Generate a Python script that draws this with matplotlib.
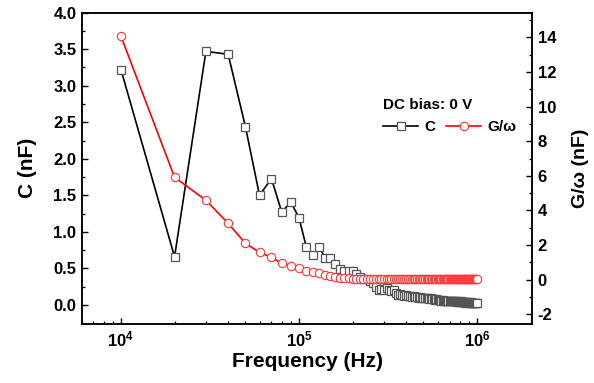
import numpy as np
import matplotlib
matplotlib.use('Agg')
import matplotlib.pyplot as plt
from matplotlib.ticker import FixedLocator, MultipleLocator, NullFormatter

plt.rcParams['font.family'] = ['Liberation Sans', 'DejaVu Sans']
plt.rcParams['font.weight'] = 'bold'
plt.rcParams['axes.labelweight'] = 'bold'
plt.rcParams['mathtext.fontset'] = 'custom'
plt.rcParams['mathtext.rm'] = 'Liberation Sans:bold'
plt.rcParams['mathtext.bf'] = 'Liberation Sans:bold'

# frequency points: 10 kHz to 1 MHz in 10 kHz steps
freq_khz = list(range(10, 1001, 10))

# capacitance (nF)
c_vals = [3.22, 0.66, 3.47, 3.43, 2.44, 1.50, 1.73, 1.27, 1.41, 1.19,
          0.79, 0.69, 0.79, 0.65, 0.65, 0.56, 0.49, 0.47, 0.46, 0.46,
          0.42, 0.38, 0.36, 0.35, 0.33, 0.30, 0.24, 0.21, 0.22, 0.20,
          0.23, 0.21, 0.19, 0.20, 0.16, 0.14, 0.15, 0.14, 0.13, 0.14,
          0.12, 0.13, 0.11, 0.12, 0.11, 0.11, 0.10, 0.11, 0.10, 0.09,
          0.10, 0.09, 0.09, 0.08, 0.09, 0.08, 0.08, 0.07, 0.08, 0.07,
          0.07, 0.07, 0.06, 0.07, 0.06, 0.06, 0.06, 0.05, 0.06, 0.05,
          0.05, 0.06, 0.05, 0.05, 0.05, 0.04, 0.05, 0.05, 0.04, 0.04,
          0.05, 0.04, 0.04, 0.04, 0.04, 0.03, 0.04, 0.04, 0.03, 0.04,
          0.03, 0.03, 0.04, 0.03, 0.03, 0.03, 0.03, 0.03, 0.03, 0.03]

# G/omega (nF)
g_vals = [14.07, 5.92, 4.59, 3.26, 2.10, 1.58, 1.29, 0.95, 0.81, 0.66,
          0.52, 0.46, 0.36, 0.28, 0.23, 0.15, 0.12, 0.09, 0.07, 0.05,
          0.04, 0.03, 0.03, 0.02, 0.02, 0.02, 0.02, 0.02, 0.02, 0.02,
          0.02, 0.03, 0.03, 0.03, 0.03, 0.03, 0.03, 0.03, 0.03, 0.04,
          0.04, 0.04, 0.04, 0.04, 0.04, 0.04, 0.04, 0.04, 0.04, 0.04,
          0.04, 0.04, 0.05, 0.05, 0.05, 0.05, 0.05, 0.05, 0.05, 0.05,
          0.05, 0.05, 0.05, 0.05, 0.05, 0.05, 0.05, 0.05, 0.05, 0.05,
          0.05, 0.05, 0.05, 0.05, 0.05, 0.05, 0.05, 0.05, 0.05, 0.05,
          0.05, 0.05, 0.05, 0.05, 0.05, 0.05, 0.05, 0.05, 0.05, 0.05,
          0.05, 0.05, 0.05, 0.05, 0.05, 0.05, 0.05, 0.05, 0.05, 0.05]

x_ticks = [1e4, 1e5, 1e6]
x_tick_labels = [r'$\mathbf{10^{4}}$', r'$\mathbf{10^{5}}$', r'$\mathbf{10^{6}}$']

freq = np.array(freq_khz) * 1e3

fig = plt.figure(figsize=(5.94, 3.83), dpi=100)
ax1 = fig.add_axes([0.138, 0.154, 0.758, 0.813])
ax2 = ax1.twinx()

l1, = ax1.plot(freq, c_vals, '-', color='black', lw=1.2, marker='s', ms=5.5,
               mfc='white', mec='#555555', mew=0.9, label='C')
l2, = ax2.plot(freq, g_vals, '-', color='red', lw=1.2, marker='o', ms=6,
               mfc='white', mec='#ff3333', mew=0.8, label='G/ω')

ax1.set_xscale('log')
ax1.set_xlim(6.04e3, 2.04e6)
ax1.set_ylim(-0.26, 4.0)
ax2.set_ylim(-2.56, 15.43)

ax1.xaxis.set_major_locator(FixedLocator(x_ticks))
ax1.set_xticklabels(x_tick_labels)
ax1.xaxis.set_minor_formatter(NullFormatter())
ax1.yaxis.set_major_locator(MultipleLocator(0.5))
ax1.yaxis.set_minor_locator(MultipleLocator(0.25))
ax2.yaxis.set_major_locator(MultipleLocator(2))
ax2.yaxis.set_minor_locator(MultipleLocator(1))

for ax in (ax1, ax2):
    for s in ax.spines.values():
        s.set_linewidth(1.1)
    ax.tick_params(which='major', direction='in', length=4, width=1.0,
                   labelsize=12, pad=4)
    ax.tick_params(which='minor', direction='in', length=2.3, width=0.9)
ax1.tick_params(axis='y', which='both', right=False)
ax1.tick_params(axis='x', which='both', top=False)
ax1.yaxis.set_major_formatter(plt.FuncFormatter(lambda v, p: f'{v:.1f}'))
ax2.yaxis.set_major_formatter(plt.FuncFormatter(lambda v, p: f'{v:.0f}'))
for lab in ax1.get_yticklabels() + ax2.get_yticklabels():
    lab.set_fontweight('bold')

ax1.set_xlabel('Frequency (Hz)', fontsize=15, fontweight='bold', labelpad=2)
ax1.set_ylabel('C (nF)', fontsize=15, fontweight='bold', labelpad=12)
ax2.set_ylabel('G/ω (nF)', fontsize=14, fontweight='bold', labelpad=11)

leg = ax2.legend(handles=[l1, l2], title='DC bias: 0 V', ncol=2,
                 loc='upper left', bbox_to_anchor=(0.652, 0.75),
                 frameon=False, fontsize=11, title_fontsize=11,
                 handlelength=2.3, handletextpad=0.4, columnspacing=0.7,
                 borderpad=0, labelspacing=0.2)
leg._legend_box.align = 'left'
leg._legend_box.sep = 6
leg.get_title().set_fontweight('bold')

fig.savefig('out.png', dpi=100)
